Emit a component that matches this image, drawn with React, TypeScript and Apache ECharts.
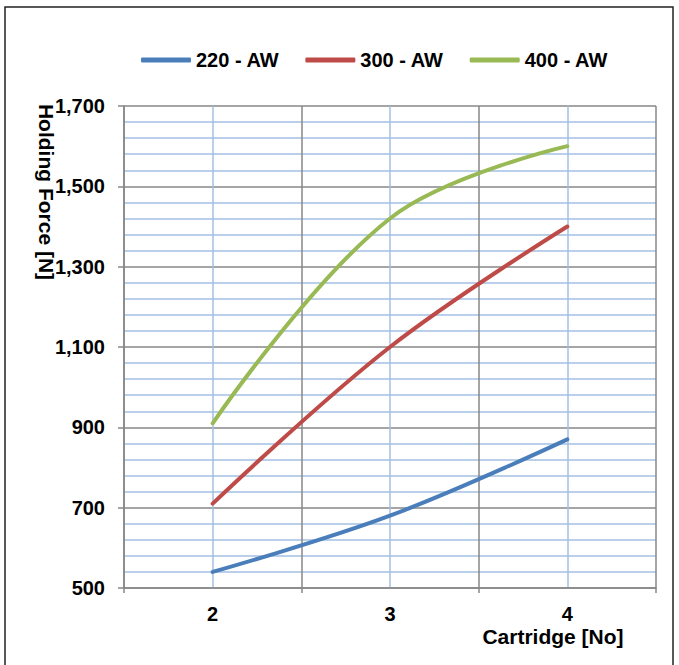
import React, { useEffect, useRef } from 'react';
import * as echarts from 'echarts';

const cartridges = [2, 3, 4];
const xTickLabels = ['2', '3', '4'];
const seriesNames = ['220 - AW', '300 - AW', '400 - AW'];
const aw220 = [540, 680, 870];
const aw300 = [710, 1100, 1400];
const aw400 = [910, 1420, 1600];
const yMin = 500;
const yMax = 1700;
const yStep = 200;
const xMin = 1.5;
const xMax = 4.5;
const xAxisTitle = 'Cartridge [No]';
const yAxisTitle = 'Holding Force [N]';

const FONT = '"Liberation Sans", Arial, Helvetica, sans-serif';
const GRAY = '#878787';
const BLUE = '#A3BFE2';
const COLORS = ['#4A7EBB', '#BE4B48', '#98B954'];

export default function App() {
  const ref = useRef<HTMLDivElement>(null);
  useEffect(() => {
    if (!ref.current) return;
    const chart = echarts.init(ref.current, undefined, { renderer: 'svg' });
    const values = [aw220, aw300, aw400];
    const option: any = {
      animation: false,
      backgroundColor: '#fff',
      color: COLORS,
      textStyle: { fontFamily: FONT },
      legend: {
        left: 136,
        top: 45,
        itemWidth: 50,
        itemHeight: 5,
        itemGap: 26,
        icon: 'roundRect',
        textStyle: { fontSize: 20, fontWeight: 'bold', color: '#000', fontFamily: FONT },
        data: seriesNames,
      },
      grid: { left: 124, top: 106, width: 532, height: 482, containLabel: false },
      xAxis: [
        {
          type: 'value',
          min: xMin,
          max: xMax,
          interval: 1,
          position: 'bottom',
          axisLine: { show: true, lineStyle: { color: GRAY, width: 1.5 } },
          axisTick: { show: true, length: 5, lineStyle: { color: GRAY, width: 1.5 } },
          axisLabel: { show: false },
          splitLine: { show: true, lineStyle: { color: GRAY, width: 1.5 } },
          minorTick: { show: false, splitNumber: 2 },
          minorSplitLine: { show: true, lineStyle: { color: BLUE, width: 1.5 } },
        },
        {
          type: 'category',
          data: xTickLabels,
          boundaryGap: true,
          position: 'bottom',
          axisLine: { show: false },
          axisTick: { show: false },
          splitLine: { show: false },
          axisLabel: { margin: 16, fontSize: 20, fontWeight: 'bold', color: '#000', fontFamily: FONT },
        },
      ],
      yAxis: {
        type: 'value',
        min: yMin,
        max: yMax,
        interval: yStep,
        axisLine: { show: true, lineStyle: { color: GRAY, width: 1.5 } },
        axisTick: { show: true, length: 6, lineStyle: { color: GRAY, width: 1.5 } },
        axisLabel: {
          margin: 19,
          fontSize: 20,
          fontWeight: 'bold',
          color: '#000',
          fontFamily: FONT,
          formatter: (v: number) => v.toLocaleString('en-US'),
        },
        splitLine: { show: true, lineStyle: { color: GRAY, width: 1.5 } },
        minorTick: { show: false, splitNumber: 5 },
        minorSplitLine: { show: true, lineStyle: { color: BLUE, width: 1.5 } },
      },
      graphic: [
        {
          type: 'rect',
          z: -1,
          shape: { x: 5, y: 7, width: 668, height: 700 },
          style: { fill: 'none', stroke: '#222', lineWidth: 1.5 },
          silent: true,
        },
        {
          type: 'text',
          x: 46,
          y: 192,
          rotation: -Math.PI / 2,
          style: {
            text: yAxisTitle,
            fontSize: 21,
            fontWeight: 'bold',
            fontFamily: FONT,
            fill: '#000',
            textAlign: 'center',
            textVerticalAlign: 'middle',
          },
        },
        {
          type: 'text',
          x: 553,
          y: 636,
          style: {
            text: xAxisTitle,
            fontSize: 21,
            fontWeight: 'bold',
            fontFamily: FONT,
            fill: '#000',
            textAlign: 'center',
            textVerticalAlign: 'middle',
          },
        },
      ],
      series: seriesNames.map((name, i) => ({
        name,
        type: 'line',
        xAxisIndex: 0,
        smooth: 0.38,
        symbol: 'none',
        lineStyle: { width: 4, color: COLORS[i], cap: 'round' },
        itemStyle: { color: COLORS[i] },
        data: cartridges.map((c, j) => [c, values[i][j]]),
      })),
    };
    chart.setOption(option);
    return () => chart.dispose();
  }, []);
  return (
    <div
      ref={ref}
      style={{ position: 'fixed', left: 0, top: 0, width: 679, height: 665, background: '#fff' }}
    />
  );
}
